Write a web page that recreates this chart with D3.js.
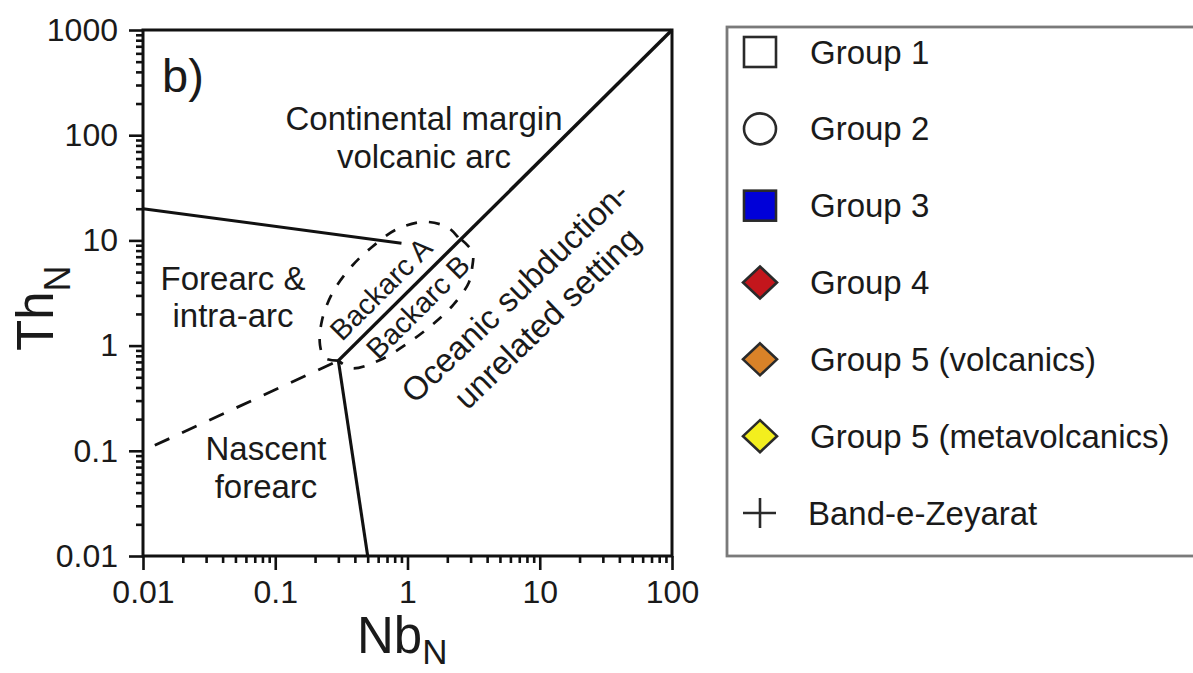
<!DOCTYPE html>
<html><head><meta charset="utf-8">
<script src="https://cdn.jsdelivr.net/npm/d3@7"></script>
<style>
html,body{margin:0;padding:0;background:#fff;}
svg{display:block;}
text{font-family:"Liberation Sans",Arial,Helvetica,sans-serif;fill:#1a1a1a;}
</style>
</head><body>
<svg id="c" width="1193" height="673"></svg>
<script>
// ---------- data ----------
const xTickValues = [0.01, 0.1, 1, 10, 100];
const xTickLabels = ["0.01", "0.1", "1", "10", "100"];
const yTickValues = [0.01, 0.1, 1, 10, 100, 1000];
const yTickLabels = ["0.01", "0.1", "1", "10", "100", "1000"];

// discrimination boundaries [Nb_N, Th_N]
const diagonalLine = [[0.3, 0.72], [100, 1000]];
const upperLine = [[0.01, 20], [0.9, 9.4]];
const lowerSolidLine = [[0.3, 0.72], [0.5, 0.01]];
const lowerDashedLine = [[0.01, 0.1], [0.3, 0.72]];
const backarcA = [[0.3, 0.72], [0.238, 0.76], [0.218, 1.01], [0.226, 1.75], [0.273, 3.23],
  [0.38, 5.71], [0.539, 8.65], [0.833, 12.8], [1.36, 15.0], [1.99, 13.4], [2.37, 11.0], [2.49, 10.0]];
const backarcB = [[2.55, 10.2], [3.1, 7.76], [3.08, 5.47], [2.9, 3.94], [2.21, 2.43],
  [1.53, 1.57], [0.99, 1.04], [0.62, 0.73], [0.38, 0.61], [0.3, 0.72]];

const legendLabels = ["Group 1", "Group 2", "Group 3", "Group 4",
  "Group 5 (volcanics)", "Group 5 (metavolcanics)", "Band-e-Zeyarat"];
const legendShapes = ["square", "circle", "square", "diamond", "diamond", "diamond", "plus"];
const legendFills = ["#ffffff", "#ffffff", "#0000d8", "#c3161c", "#d98228", "#f3ee1e", "none"];

// ---------- layout ----------
const svg = d3.select("#c");
const plot = {left: 143, right: 672, top: 30, bottom: 556};
const x = d3.scaleLog().domain([0.01, 100]).range([plot.left, plot.right]);
const y = d3.scaleLog().domain([0.01, 1000]).range([plot.bottom, plot.top]);

function minorTicks(domain) {
  const out = [];
  for (let e = Math.log10(domain[0]); e < Math.log10(domain[1]); e++) {
    for (let m = 2; m <= 9; m++) out.push(m * Math.pow(10, e));
  }
  return out;
}

const tickFont = "32px";

// y axis
const gyMinor = svg.append("g").attr("transform", `translate(${plot.left},0)`)
  .call(d3.axisLeft(y).tickValues(minorTicks(y.domain())).tickSize(7).tickFormat(""));
const gy = svg.append("g").attr("transform", `translate(${plot.left},0)`)
  .call(d3.axisLeft(y).tickValues(yTickValues).tickSize(14).tickPadding(11)
    .tickFormat((d, i) => yTickLabels[i]));
// x axis
const gxMinor = svg.append("g").attr("transform", `translate(0,${plot.bottom})`)
  .call(d3.axisBottom(x).tickValues(minorTicks(x.domain())).tickSize(7).tickFormat(""));
const gx = svg.append("g").attr("transform", `translate(0,${plot.bottom})`)
  .call(d3.axisBottom(x).tickValues(xTickValues).tickSize(14).tickPadding(10)
    .tickFormat((d, i) => xTickLabels[i]));

[gy, gyMinor, gx, gxMinor].forEach(g => {
  g.select(".domain").remove();
  g.selectAll(".tick line").attr("stroke", "#111").attr("stroke-width", 2.6);
  g.selectAll(".tick text").style("font-size", tickFont).attr("fill", "#1a1a1a")
    .style("font-family", '"Liberation Sans",Arial,sans-serif');
});

// frame
svg.append("rect").attr("x", plot.left).attr("y", plot.top)
  .attr("width", plot.right - plot.left).attr("height", plot.bottom - plot.top)
  .attr("fill", "none").attr("stroke", "#111").attr("stroke-width", 3);

// boundaries
const line = d3.line().x(d => x(d[0])).y(d => y(d[1]));
const curve = d3.line().x(d => x(d[0])).y(d => y(d[1])).curve(d3.curveCatmullRom.alpha(0.5));

svg.append("path").attr("d", line(diagonalLine)).attr("fill", "none")
  .attr("stroke", "#111").attr("stroke-width", 3.4);
svg.append("path").attr("d", line(upperLine)).attr("fill", "none")
  .attr("stroke", "#111").attr("stroke-width", 2.9);
svg.append("path").attr("d", line(lowerSolidLine)).attr("fill", "none")
  .attr("stroke", "#111").attr("stroke-width", 3.1);
svg.append("path").attr("d", line(lowerDashedLine)).attr("fill", "none")
  .attr("stroke", "#111").attr("stroke-width", 2.8)
  .attr("stroke-dasharray", "16,14").attr("stroke-dashoffset", 17);
[backarcA, backarcB].forEach(pts => {
  svg.append("path").attr("d", curve(pts)).attr("fill", "none")
    .attr("stroke", "#111").attr("stroke-width", 2.7)
    .attr("stroke-dasharray", "11,12");
});

// region labels
const fieldFont = 33;
const labels = [
  {t: "Continental margin", px: 424, py: 130},
  {t: "volcanic arc", px: 424, py: 168},
  {t: "Forearc &", px: 233, py: 290},
  {t: "intra-arc", px: 233, py: 327},
  {t: "Nascent", px: 266, py: 460},
  {t: "forearc", px: 266, py: 498}
];
labels.forEach(l => {
  svg.append("text").attr("x", l.px).attr("y", l.py).attr("text-anchor", "middle")
    .style("font-size", fieldFont + "px").text(l.t);
});
const rotLabels = [
  {t: "Backarc A", px: 381, py: 289, a: -45, fs: 29},
  {t: "Backarc B", px: 418, py: 307, a: -45, fs: 29},
  {t: "Oceanic subduction-", px: 515, py: 292, a: -44, fs: 33},
  {t: "unrelated setting", px: 547, py: 318, a: -44, fs: 33}
];
rotLabels.forEach(l => {
  svg.append("text").attr("transform", `translate(${l.px},${l.py}) rotate(${l.a})`)
    .attr("text-anchor", "middle").attr("dominant-baseline", "central")
    .style("font-size", l.fs + "px").text(l.t);
});

svg.append("text").attr("x", 162).attr("y", 92).style("font-size", "47px").text("b)");

// axis titles
const xt = svg.append("text").attr("x", 357).attr("y", 653).style("font-size", "51px");
xt.append("tspan").text("Nb");
xt.append("tspan").attr("dy", 11).style("font-size", "35px").text("N");

const yt = svg.append("text").attr("transform", "translate(53,351) rotate(-90)")
  .style("font-size", "51px");
yt.append("tspan").text("Th");
yt.append("tspan").attr("dy", 17).style("font-size", "36px").text("N");

// legend
svg.append("rect").attr("x", 727).attr("y", 27).attr("width", 500).attr("height", 529)
  .attr("fill", "#fff").attr("stroke", "#7a7a7a").attr("stroke-width", 2.8);

const legendY = d3.scalePoint().domain(legendLabels).range([52, 513]);
const lg = svg.append("g").selectAll("g").data(legendLabels).join("g")
  .attr("transform", d => `translate(760,${legendY(d)})`);
lg.each(function(d, i) {
  const g = d3.select(this);
  const shape = legendShapes[i], fill = legendFills[i];
  if (shape === "square") {
    g.append("rect").attr("x", -16).attr("y", -15).attr("width", 32).attr("height", 30)
      .attr("fill", fill).attr("stroke", "#2a2a2a").attr("stroke-width", 2.6);
  } else if (shape === "circle") {
    g.append("ellipse").attr("rx", 16).attr("ry", 15.5)
      .attr("fill", fill).attr("stroke", "#2a2a2a").attr("stroke-width", 2.6);
  } else if (shape === "diamond") {
    g.append("path").attr("d", "M0,-16 L17,0 L0,16 L-17,0Z")
      .attr("fill", fill).attr("stroke", "#2a2a2a").attr("stroke-width", 2.6);
  } else {
    g.append("path").attr("d", "M-17,0 H16 M0,-15 V15")
      .attr("fill", "none").attr("stroke", "#2a2a2a").attr("stroke-width", 2.6);
  }
  g.append("text").attr("x", i === 6 ? 48 : 50).attr("y", 0).attr("dominant-baseline", "central")
    .style("font-size", "33px").text(d);
});
</script>
</body></html>
